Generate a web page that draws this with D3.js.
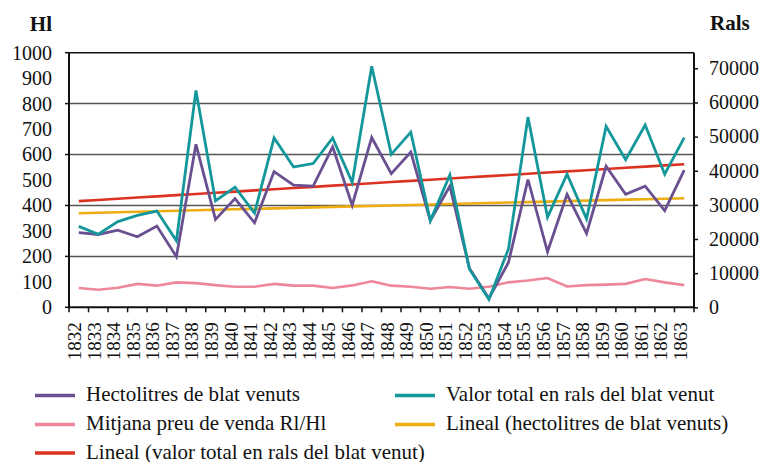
<!DOCTYPE html>
<html>
<head>
<meta charset="utf-8">
<script src="https://cdn.jsdelivr.net/npm/d3@7"></script>
<style>
	body { margin: 0; background: #fff; }
	svg text { font-family: 'Liberation Serif', 'DejaVu Serif', serif; fill: #111; }
</style>
</head>
<body>
<div id="chart"></div>
<script>
// categories (years)
var years = ['1832','1833','1834','1835','1836','1837','1838','1839','1840','1841','1842','1843','1844','1845','1846','1847',
	'1848','1849','1850','1851','1852','1853','1854','1855','1856','1857','1858','1859','1860','1861','1862','1863'];

// Hectolitres de blat venuts (left axis)
var hectolitres = [293, 286, 303, 277, 319, 199, 640, 345, 427, 332, 533, 480, 476, 630, 401, 667,
	525, 610, 340, 476, 153, 35, 176, 502, 218, 444, 290, 554, 444, 476, 380, 539];

// Valor total en rals del blat venut (right axis)
var valorRals = [23700, 21400, 25100, 26900, 28200, 19500, 63500, 31200, 35200, 27600, 49600, 41100, 42100, 49600, 36600, 70600,
	44800, 51300, 25400, 38800, 11200, 2300, 17100, 55700, 26400, 39000, 25900, 53000, 43200, 53400, 39000, 49700];

// Mitjana preu de venda Rl/Hl (left axis)
var preuMitja = [76, 69, 77, 92, 85, 98, 95, 87, 81, 81, 92, 85, 85, 76, 86, 102,
	85, 81, 73, 80, 73, 81, 98, 105, 115, 82, 87, 89, 92, 111, 98, 87];

var leftTicks = [0, 100, 200, 300, 400, 500, 600, 700, 800, 900, 1000];
var leftGrid = [200, 400, 600, 800, 1000];
var rightTicks = [0, 10000, 20000, 30000, 40000, 50000, 60000, 70000];

var legendItems = [
	{ label: 'Hectolitres de blat venuts', color: '#6a5090' },
	{ label: 'Valor total en rals del blat venut', color: '#14979a' },
	{ label: 'Mitjana preu de venda Rl/Hl', color: '#ee8799' },
	{ label: 'Lineal (hectolitres de blat venuts)', color: '#eead10' },
	{ label: 'Lineal (valor total en rals del blat venut)', color: '#dc3222' }
];

// least squares trend line, as the "Lineal" series of the spreadsheet
function linearTrend(values)
{
	var n = values.length;
	var mx = (n - 1) / 2;
	var my = d3.mean(values);
	var sxy = 0, sxx = 0;
	values.forEach(function(v, i) { sxy += (i - mx) * (v - my); sxx += (i - mx) * (i - mx); });
	var slope = sxy / sxx;
	return values.map(function(v, i) { return my + slope * (i - mx); });
}

var width = 765, height = 462;
var plotLeft = 69, plotRight = 694, plotTop = 52.7, plotBottom = 307.3;
var serif = "'Liberation Serif', 'DejaVu Serif', serif";

var svg = d3.select('#chart').append('svg')
	.attr('width', width)
	.attr('height', height)
	.attr('font-family', serif);

var x = d3.scaleBand().domain(years).range([plotLeft, plotRight]);
var xc = function(d) { return x(d) + x.bandwidth() / 2; };
var yLeft = d3.scaleLinear().domain([0, 1000]).range([plotBottom, plotTop]);
var yRight = d3.scaleLinear().domain([0, 74570]).range([plotBottom, plotTop]);

// gridlines
svg.append('g').selectAll('line')
	.data(leftGrid)
	.enter().append('line')
		.attr('x1', plotLeft).attr('x2', plotRight)
		.attr('y1', function(d) { return yLeft(d); })
		.attr('y2', function(d) { return yLeft(d); })
		.attr('stroke', function(d) { return d == 1000 ? '#111' : '#555'; })
		.attr('stroke-width', 1.5);

// left axis: labels every 100, marks every 200
var leftAxis = svg.append('g')
	.attr('transform', 'translate(' + plotLeft + ',0)')
	.call(d3.axisLeft(yLeft).tickValues(leftTicks).tickSize(0).tickPadding(17).tickFormat(d3.format('d')));
leftAxis.attr('font-family', serif);
leftAxis.select('.domain').remove();
leftAxis.selectAll('text').attr('font-size', 20);
svg.append('g').selectAll('line')
	.data(leftGrid.concat([0]))
	.enter().append('line')
		.attr('x1', plotLeft - 4).attr('x2', plotLeft)
		.attr('y1', function(d) { return yLeft(d); })
		.attr('y2', function(d) { return yLeft(d); })
		.attr('stroke', '#111').attr('stroke-width', 1.5);

// right axis
var rightAxis = svg.append('g')
	.attr('transform', 'translate(' + plotRight + ',0)')
	.call(d3.axisRight(yRight).tickValues(rightTicks).tickSize(4).tickPadding(11).tickFormat(d3.format('d')));
rightAxis.attr('font-family', serif);
rightAxis.select('.domain').remove();
rightAxis.selectAll('line').attr('stroke', '#111').attr('stroke-width', 1.5);
rightAxis.selectAll('text').attr('font-size', 20);

// category axis
var bounds = years.map(function(d) { return x(d); }).concat([plotRight]);
svg.append('g').selectAll('line')
	.data(bounds)
	.enter().append('line')
		.attr('x1', function(d) { return d; }).attr('x2', function(d) { return d; })
		.attr('y1', plotBottom).attr('y2', plotBottom + 5)
		.attr('stroke', '#111').attr('stroke-width', 1.5);
svg.append('g').selectAll('text')
	.data(years)
	.enter().append('text')
		.attr('transform', function(d) { return 'translate(' + (xc(d) + 2.5) + ',' + (plotBottom + 15) + ') rotate(-90)'; })
		.attr('text-anchor', 'end')
		.attr('font-size', 19)
		.text(function(d) { return d; });

// axis lines
svg.append('line')
	.attr('x1', plotLeft).attr('x2', plotLeft).attr('y1', plotTop).attr('y2', plotBottom + 1)
	.attr('stroke', '#111').attr('stroke-width', 2);
svg.append('line')
	.attr('x1', plotRight).attr('x2', plotRight).attr('y1', plotTop).attr('y2', plotBottom + 1)
	.attr('stroke', '#111').attr('stroke-width', 2);
svg.append('line')
	.attr('x1', plotLeft).attr('x2', plotRight).attr('y1', plotBottom).attr('y2', plotBottom)
	.attr('stroke', '#111').attr('stroke-width', 2);

// axis titles
svg.append('text')
	.attr('x', 52).attr('y', 31)
	.attr('text-anchor', 'end')
	.attr('font-size', 21).attr('font-weight', 'bold')
	.text('Hl');
svg.append('text')
	.attr('x', 710).attr('y', 30)
	.attr('font-size', 21).attr('font-weight', 'bold')
	.text('Rals');

// series
var series = [
	{ values: preuMitja, scale: yLeft, color: legendItems[2].color, width: 2.6 },
	{ values: linearTrend(hectolitres), scale: yLeft, color: legendItems[3].color, width: 2.6 },
	{ values: linearTrend(valorRals), scale: yRight, color: legendItems[4].color, width: 2.6 },
	{ values: hectolitres, scale: yLeft, color: legendItems[0].color, width: 2.8 },
	{ values: valorRals, scale: yRight, color: legendItems[1].color, width: 2.8 }
];

series.forEach(function(s)
{
	var line = d3.line()
		.x(function(v, i) { return xc(years[i]); })
		.y(function(v) { return s.scale(v); });
	svg.append('path')
		.datum(s.values)
		.attr('d', line)
		.attr('fill', 'none')
		.attr('stroke', s.color)
		.attr('stroke-width', s.width)
		.attr('stroke-linejoin', 'miter');
});

// legend, two columns
var legendCols = [35, 395];
var legendRows = [395.5, 424.5, 453];
var legend = svg.append('g').selectAll('g')
	.data(legendItems)
	.enter().append('g')
		.attr('transform', function(d, i) { return 'translate(' + legendCols[i % 2] + ',' + legendRows[Math.floor(i / 2)] + ')'; });
legend.append('line')
	.attr('x1', 0).attr('x2', 40)
	.attr('stroke', function(d) { return d.color; })
	.attr('stroke-width', 3.5);
legend.append('text')
	.attr('x', 51).attr('y', 5.5)
	.attr('font-size', 21)
	.text(function(d) { return d.label; });
</script>
</body>
</html>
